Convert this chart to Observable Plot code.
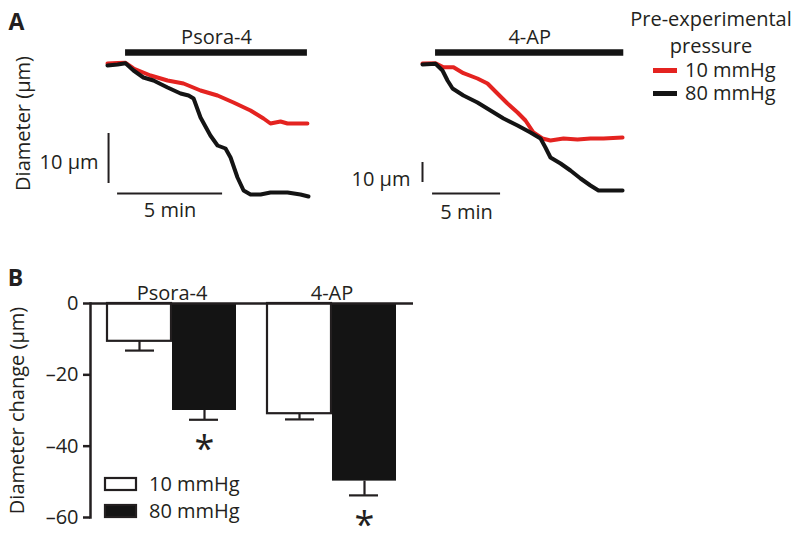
<!DOCTYPE html>
<html>
<head>
<meta charset="utf-8">
<script src="https://cdn.jsdelivr.net/npm/d3@7"></script>
<script src="https://cdn.jsdelivr.net/npm/@observablehq/plot@0.6"></script>
<style>
  body { margin: 0; background: #fff; }
  #fig { position: relative; width: 800px; height: 536px; font-family: "Open Sans", sans-serif; color: #231f20; overflow: hidden; }
  #fig > * { position: absolute; margin: 0; }
  .lega-swatch > svg { margin-right: 8px !important; }
  .legb-swatch > svg { margin-right: 13px !important; overflow: visible; }
  .legb-swatch svg rect { stroke: #231f20; stroke-width: 2.2px; }
  .lega-swatch-label, .legb-swatch-label { overflow: visible !important; }
  .ttl { text-align: center; font-size: 20px; line-height: 27px; }
</style>
</head>
<body>
<div id="fig"></div>
<script>
// ---------- Panel A: diameter traces (time in min, diameter change in µm) ----------
const psora10 = [[0,0],[0.48,0.1],[0.86,0.14],[1.24,-1.0],[2.05,-2.4],[2.86,-3.4],[3.62,-4.0],[4.43,-5.4],[5.24,-6.4],[6.0,-7.8],[6.81,-9.4],[7.43,-11.0],[7.76,-12.0],[8.24,-11.6],[8.57,-12.0],[9.05,-12.0],[9.52,-12.0]];
const psora80 = [[0,-0.4],[0.48,-0.2],[0.86,0.06],[1.24,-1.4],[1.71,-2.8],[2.19,-3.4],[2.86,-4.8],[3.48,-6.0],[3.86,-6.4],[4.10,-7.0],[4.43,-10.8],[4.90,-14.4],[5.24,-16.4],[5.62,-17.0],[5.86,-18.8],[6.19,-22.8],[6.48,-25.4],[6.81,-26.2],[7.29,-26.2],[7.76,-25.8],[8.57,-25.8],[9.19,-26.2],[9.57,-26.6]];
const ap10 = [[0,0],[0.96,0.15],[1.54,-1.85],[2.28,-1.85],[3.01,-4.85],[4.04,-7.5],[4.78,-10],[5.51,-15],[6.25,-20],[6.99,-24.5],[7.57,-28.5],[8.16,-34.5],[8.82,-37.5],[9.41,-38.5],[10.37,-37.5],[11.40,-38],[12.35,-37.5],[13.31,-37.5],[14.71,-37]];
const ap80 = [[0,-0.5],[0.96,-0.15],[1.47,-3.5],[1.84,-8.5],[2.21,-12.5],[3.01,-16],[4.04,-19.5],[5.0,-23.5],[5.96,-27.5],[6.99,-31],[7.94,-34.5],[8.68,-37.5],[9.04,-42],[9.41,-47],[10.15,-50],[10.88,-53.5],[11.62,-57.5],[12.35,-61],[12.94,-63.5],[13.82,-63.5],[14.71,-63.5]];

// drug application bars and scale bars (min, µm)
const psoraDrugBar = [{t1: 0.86, t2: 9.52, d: 2.2, label: "Psora-4"}];
const psoraScaleV = [{t: 0.05, d1: -14, d2: -24, label: "10 µm"}];
const psoraScaleH = [{t1: 0.48, t2: 5.48, d: -26, label: "5 min"}];
const apDrugBar = [{t1: 0.96, t2: 14.8, d: 5.5, label: "4-AP"}];
const apScaleV = [{t: 0, d1: -49.5, d2: -59.5, label: "10 µm"}];
const apScaleH = [{t1: 0.74, t2: 5.74, d: -65, label: "5 min"}];

const pressures = ["10 mmHg", "80 mmHg"];
const legendTitle = ["Pre-experimental", "pressure"];

// ---------- Panel B: diameter change bars ----------
const drugs = ["Psora-4", "4-AP"];
const mean10 = [-10.6, -30.9];
const sem10 = [2.6, 1.6];
const mean80 = [-30.0, -49.8];
const sem80 = [2.6, 4.0];
const signif80 = [true, true];
const yTicks = [0, -20, -40, -60];

// ---------- styling ----------
const FONT = "'Open Sans', sans-serif";
const INK = "#231f20";
const RED = "#e42320";
const BLACK = "#141414";

const fig = document.getElementById("fig");
function place(el, left, top) { el.style.left = left + "px"; el.style.top = top + "px"; fig.appendChild(el); return el; }
const rows = (pairs) => pairs.map(([t, d]) => ({t, d}));

function tracePanel({w, xDomain, xRange, yDomain, yRange, tr10, tr80, drug, sv, sh, svDx, svDy, shDy, extra}) {
  return Plot.plot({
    width: w, height: 230, margin: 0,
    x: {domain: xDomain, range: xRange, axis: null},
    y: {domain: yDomain, range: yRange, axis: null},
    style: {fontFamily: FONT, fontSize: "20px", color: INK, background: "transparent", overflow: "visible"},
    marks: [
      Plot.line(rows(tr10), {x: "t", y: "d", stroke: RED, strokeWidth: 4, strokeLinejoin: "round"}),
      Plot.line(rows(tr80), {x: "t", y: "d", stroke: BLACK, strokeWidth: 4, strokeLinejoin: "round"}),
      Plot.ruleY(drug, {x1: "t1", x2: "t2", y: "d", stroke: BLACK, strokeWidth: 6.5}),
      Plot.text(drug, {x: d => (d.t1 + d.t2) / 2, y: "d", text: "label", dy: -15, fill: INK}),
      Plot.ruleX(sv, {x: "t", y1: "d1", y2: "d2", stroke: INK, strokeWidth: 2}),
      Plot.text(sv, {x: "t", y: d => (d.d1 + d.d2) / 2, text: "label", textAnchor: "end", dx: svDx, dy: svDy, fill: INK}),
      Plot.ruleY(sh, {x1: "t1", x2: "t2", y: "d", stroke: INK, strokeWidth: 2}),
      Plot.text(sh, {x: d => (d.t1 + d.t2) / 2, y: "d", text: "label", dy: shDy, fill: INK}),
      ...(extra || [])
    ]
  });
}

// Panel A left (Psora-4)
place(tracePanel({
  w: 330, xDomain: [-5, 10.5], xRange: [2, 327.5], yDomain: [-33, 12.6], yRange: [228, 0],
  tr10: psora10, tr80: psora80, drug: psoraDrugBar, sv: psoraScaleV, sh: psoraScaleH, svDx: -10, svDy: 4, shDy: 17,
  extra: [
    Plot.text(["A"], {frameAnchor: "top-left", dx: 16, dy: 22, textAnchor: "middle", lineAnchor: "middle", fontWeight: "bold", fontSize: 23, fill: INK}),
    Plot.text(["Diameter (µm)"], {frameAnchor: "top-left", dx: 23, dy: 123, textAnchor: "middle", lineAnchor: "middle", rotate: -90, fill: INK})
  ]
}), 0, 0);

// Panel A right (4-AP)
place(tracePanel({
  w: 470, xDomain: [-6, 25], xRange: [10.4, 432], yDomain: [-83, 31.5], yRange: [229, 0],
  tr10: ap10, tr80: ap80, drug: apDrugBar, sv: apScaleV, sh: apScaleH, svDx: -12, svDy: 7, shDy: 19
}), 330, 0);

// Legend for traces
const ttl = document.createElement("div");
ttl.className = "ttl";
ttl.style.width = "180px";
ttl.innerHTML = legendTitle.join("<br>");
place(ttl, 621, 5);

const legA = Plot.legend({
  color: {domain: pressures, range: [RED, BLACK]},
  legend: "swatches", columns: 1, swatchWidth: 24, swatchHeight: 5, className: "lega",
  style: {fontFamily: FONT, fontSize: "20px", lineHeight: "22px", color: INK}
});
legA.style.width = "145px";
place(legA, 653, 59);

// ---------- Panel B ----------
const rows10 = drugs.map((drug, i) => ({drug, mean: mean10[i], sem: sem10[i]}));
const rows80 = drugs.map((drug, i) => ({drug, mean: mean80[i], sem: sem80[i], sig: signif80[i]}));
const errEnd = d => d.mean - d.sem;

const panelB = Plot.plot({
  width: 430, height: 306,
  marginTop: 73, marginBottom: 19, marginLeft: 90, marginRight: 17,
  x: {domain: drugs, paddingInner: 0.193, paddingOuter: 0.1, axis: null},
  y: {domain: [-60, 0], axis: null},
  style: {fontFamily: FONT, fontSize: "20px", color: INK, background: "transparent", overflow: "visible"},
  marks: [
    Plot.barY(rows10, {x: "drug", y: "mean", fill: "white", stroke: INK, strokeWidth: 2.2, insetRight: 65}),
    Plot.barY(rows80, {x: "drug", y: "mean", fill: BLACK, insetLeft: 65}),
    Plot.ruleX(rows10, {x: "drug", y1: "mean", y2: errEnd, dx: -32.5, stroke: INK, strokeWidth: 2.2}),
    Plot.ruleX(rows80, {x: "drug", y1: "mean", y2: errEnd, dx: 32.5, stroke: INK, strokeWidth: 2.2}),
    Plot.tickY(rows10, {x: "drug", y: errEnd, insetLeft: 18, insetRight: 82, stroke: INK, strokeWidth: 2.2}),
    Plot.tickY(rows80, {x: "drug", y: errEnd, insetLeft: 82, insetRight: 18, stroke: INK, strokeWidth: 2.2}),
    Plot.text(rows80.filter(d => d.sig), {x: "drug", y: errEnd, text: () => "*", dx: 32.5, dy: 30, fontSize: 36, fill: INK}),
    Plot.ruleY([0], {stroke: INK, strokeWidth: 2.5}),
    Plot.frame({anchor: "left", stroke: INK, strokeWidth: 2.5}),
    Plot.axisY({ticks: yTicks, tickSize: 7, tickPadding: 5, strokeWidth: 2.5, stroke: INK, fill: INK,
      tickFormat: d => d === 0 ? "0" : "\u2013" + Math.abs(d), label: null}),
    Plot.axisX({anchor: "top", tickSize: 0, tickPadding: 4, fill: INK, label: null}),
    Plot.text(["Diameter change (µm)"], {frameAnchor: "left", dx: -73, textAnchor: "middle", lineAnchor: "middle", rotate: -90, fill: INK}),
    Plot.text(["B"], {frameAnchor: "top-left", dx: -75, dy: -25, textAnchor: "middle", lineAnchor: "middle", fontWeight: "bold", fontSize: 23, fill: INK})
  ]
});
place(panelB, 0, 230);

const legB = Plot.legend({
  color: {domain: pressures, range: ["white", BLACK]},
  legend: "swatches", columns: 1, swatchWidth: 31, swatchHeight: 12, className: "legb",
  style: {fontFamily: FONT, fontSize: "20px", lineHeight: "26px", color: INK}
});
legB.style.width = "150px";
place(legB, 105, 471);
</script>
</body>
</html>
